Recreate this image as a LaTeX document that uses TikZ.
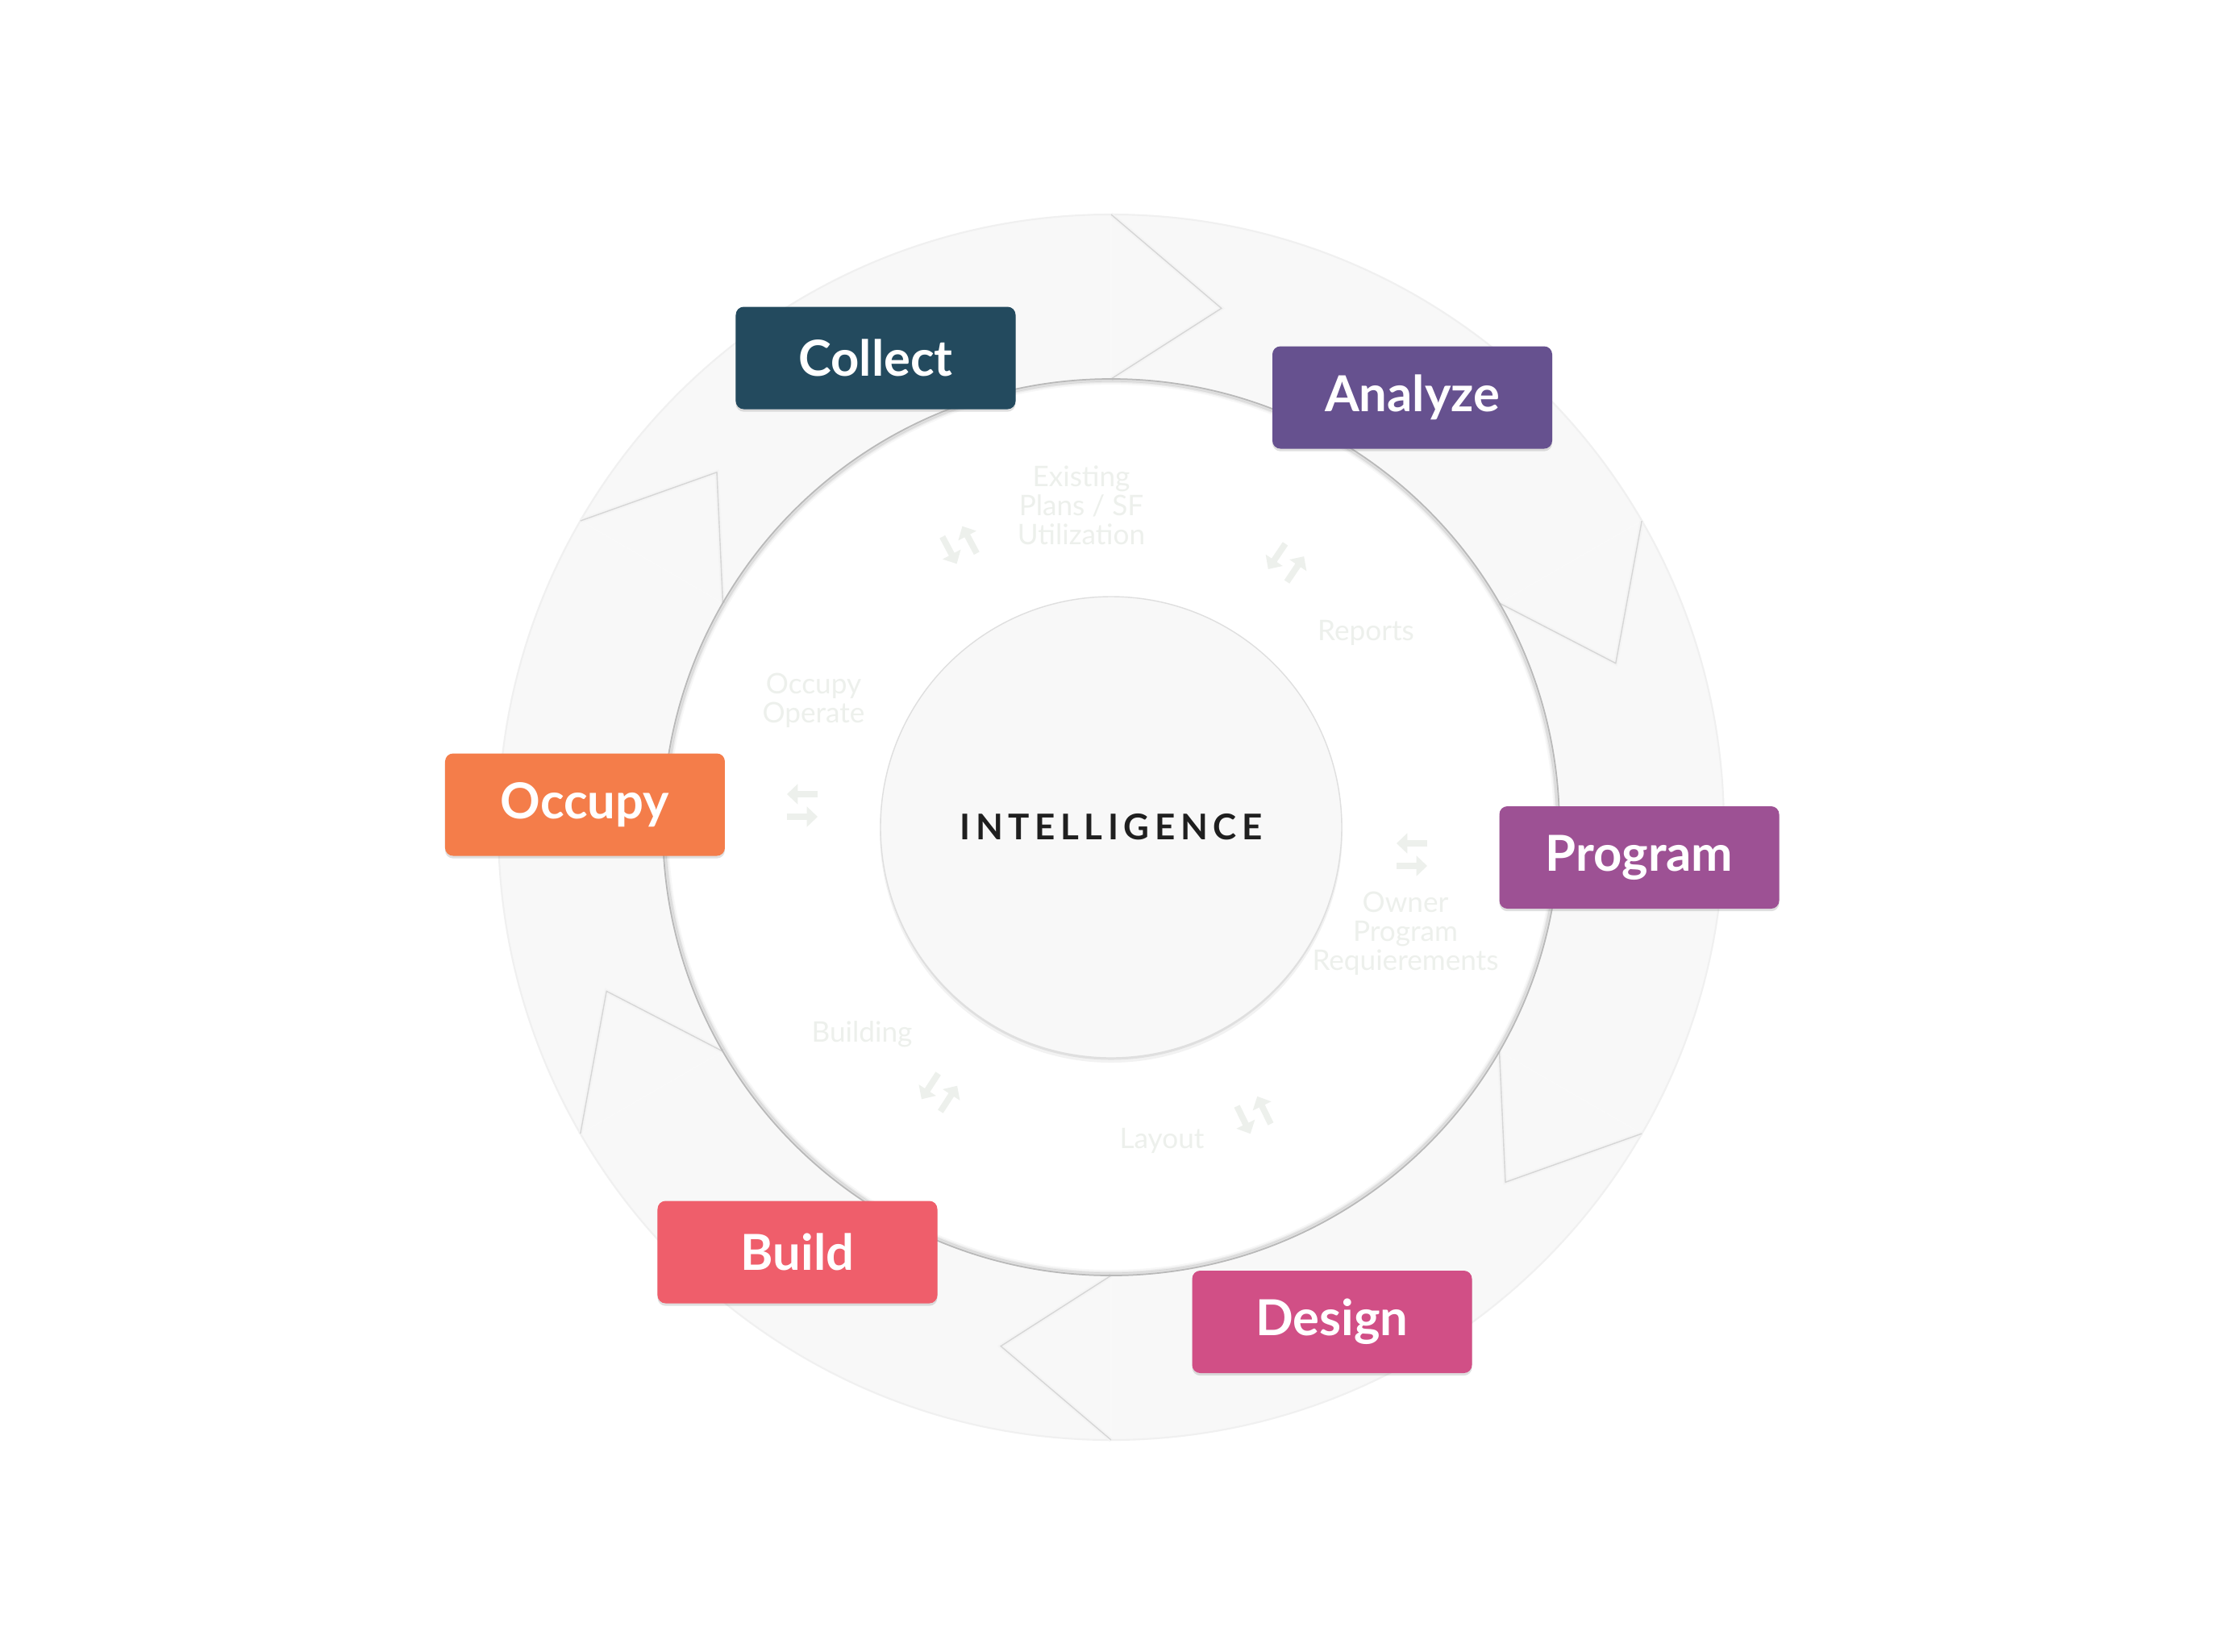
\documentclass[tikz,border=0pt]{standalone}
\usepackage{fontspec}
\setmainfont{Lato}
\newfontfamily\spacedfont[LetterSpace=15]{Lato}
\usetikzlibrary{shadows,arrows.meta}
\definecolor{collectc}{HTML}{234A5E}
\definecolor{analyzec}{HTML}{66518F}
\definecolor{programc}{HTML}{9D5194}
\definecolor{designc}{HTML}{D14F86}
\definecolor{buildc}{HTML}{EF5E6B}
\definecolor{occupyc}{HTML}{F47D4A}
\definecolor{ringc}{HTML}{F8F8F8}
\definecolor{faintc}{HTML}{EDF0EC}
\def\Rout{7.6}
\def\Rin{5.56}
\def\Rmid{6.58}

\begin{document}
\begin{tikzpicture}[
    stage/.style={rectangle, rounded corners=0.1cm, minimum width=3.47cm,
      minimum height=1.27cm, text=white, font=\bfseries\fontsize{17.5}{20}\selectfont,
      drop shadow={shadow xshift=0pt, shadow yshift=-0.9pt, opacity=0.25}},
    faint/.style={text=faintc, align=center, font=\fontsize{10}{10.3}\selectfont},
    swaparrow/.style={faintc, line width=2.2pt, -{Triangle[length=3.8pt, width=7pt]}}
  ]

        \useasboundingbox[fill=white] (-13.78,-10.22) rectangle (13.74,10.26);

        % ring
        \fill[ringc, even odd rule] (0,0) circle[radius=\Rout] (0,0) circle[radius=\Rin];
        \draw[gray!12, line width=0.6pt] (0,0) circle[radius=\Rout];
        \foreach \b in {90,30,-30,-90,-150,150} {
          \draw[gray!5, line width=0.5pt] (\b:\Rin) -- (\b:\Rout);
          \draw[gray!9, line width=1.5pt, line join=miter] (\b:\Rout) -- (\b-12:\Rmid) -- (\b:\Rin);
          \draw[gray!32, line width=0.4pt, line join=miter] (\b:\Rout) -- (\b-12:\Rmid) -- (\b:\Rin);
        }
        \foreach \d/\o in {0.05/0.03, 0.03/0.05, 0.015/0.08}
          \draw[black, opacity=\o, line width=1.2pt] (0,0) circle[radius=\Rin-\d];
        \draw[gray!55, line width=0.5pt] (0,0) circle[radius=\Rin];

        % centre
        \fill[black, opacity=0.05] (0,-0.05) circle[radius=2.87];
        \fill[black, opacity=0.07] (0,-0.025) circle[radius=2.86];
        \node[circle, fill=ringc, draw=gray!25, minimum size=5.72cm, inner sep=0pt, text=black!88,
          font=\spacedfont\bfseries\fontsize{12.5}{15}\selectfont] (core) at (0,0) {INTELLIGENCE};

        % faint labels
        \node[faint] (existing) at (-0.37,3.99) {Existing\\Plans / SF\\Utilization};
        \node[faint] (reports) at (3.16,2.41) {Reports};
        \node[faint] (operate) at (-3.69,1.57) {Occupy\\Operate};
        \node[faint] (owner) at (3.65,-1.32) {Owner\\Program\\Requierements};
        \node[faint] (building) at (-3.09,-2.57) {Building};
        \node[faint] (layout) at (0.63,-3.89) {Layout};

        \foreach \x/\y/\r in {-1.88/3.50/118, 2.17/3.28/56, -3.83/0.27/0,
                              3.73/-0.34/0, -2.13/-3.29/57, 1.77/-3.57/116} {
          \begin{scope}[shift={(\x,\y)}, rotate=\r]
            \draw[swaparrow] (0.19,0.14) -- (-0.19,0.14);
            \draw[swaparrow] (-0.19,-0.14) -- (0.19,-0.14);
          \end{scope}
        }

        % stages
        \node[stage, fill=collectc] (collect) at (-2.92,5.82) {Collect};
        \node[stage, fill=analyzec] (analyze) at (3.735,5.33) {Analyze};
        \node[stage, fill=programc] (program) at (6.55,-0.375) {Program};
        \node[stage, fill=designc] (design) at (2.74,-6.135) {Design};
        \node[stage, fill=buildc] (build) at (-3.89,-5.27) {Build};
        \node[stage, fill=occupyc] (occupy) at (-6.525,0.28) {Occupy};

      \end{tikzpicture}
\end{document}
